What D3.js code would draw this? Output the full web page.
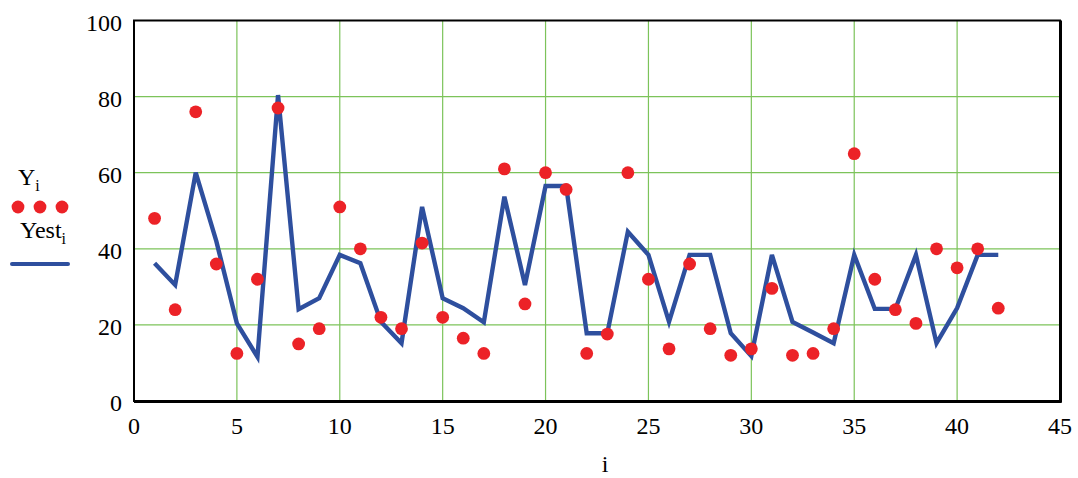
<!DOCTYPE html>
<html>
<head>
<script src="https://cdn.jsdelivr.net/npm/d3@7"></script>
</head>
<body style="margin:0">
<script>
const width = 1078
const height = 478
const serif = '"Liberation Serif"'

// data
const idx = d3.range(1, 43)
const yObs = [48, 24, 76, 36, 12.5, 32, 77, 15, 19, 51, 40, 22, 19, 41.5, 22,
  16.5, 12.5, 61, 25.5, 60, 55.6, 12.5, 17.6, 60, 32, 13.7, 36, 19, 12, 13.7,
  29.6, 12, 12.5, 19, 65, 32, 24, 20.4, 40, 35, 40, 24.4]
const yEst = [36.2, 30.5, 60, 42, 20.4, 11.6, 80.4, 24.1, 27, 38.4, 36.2, 20.8, 15.2, 51, 27,
  24.4, 20.7, 53.7, 30.5, 56.5, 56.5, 17.8, 17.8, 44.5, 38.4, 20.8, 38.4, 38.4, 17.8, 11.8,
  38.4, 20.8, 18, 15.2, 38.4, 24.2, 24.2, 38.4, 15.2, 24.4, 38.4, 38.4]
const xTicks = d3.range(0, 46, 5)
const yTicks = d3.range(0, 101, 20)

const margin = { top: 20.5, right: 18, bottom: 77, left: 134 }
const graphWidth = width - margin.left - margin.right
const graphHeight = height - margin.top - margin.bottom

const svg = d3.select("body")
    .append("svg")
    .attr("width", width)
    .attr("height", height)

const graph = svg.append("g")
    .attr("transform", `translate(${margin.left}, ${margin.top})`)

const scaleX = d3.scaleLinear().domain([0, 45]).range([0, graphWidth])
const scaleY = d3.scaleLinear().domain([0, 100]).range([graphHeight, 0])

// grid
graph.selectAll(".gx")
    .data(xTicks.filter(d => d > 0 && d < 45))
    .enter().append("line")
    .attr("x1", d => scaleX(d)).attr("x2", d => scaleX(d))
    .attr("y1", 0).attr("y2", graphHeight)
    .attr("stroke", "#7cc35a").attr("stroke-width", 1.2)

graph.selectAll(".gy")
    .data(yTicks.filter(d => d > 0))
    .enter().append("line")
    .attr("x1", 0).attr("x2", graphWidth)
    .attr("y1", d => scaleY(d)).attr("y2", d => scaleY(d))
    .attr("stroke", "#7cc35a").attr("stroke-width", 1.2)

// fitted line
const line = d3.line()
    .x((d, i) => scaleX(idx[i]))
    .y(d => scaleY(d))

graph.append("path")
    .datum(yEst)
    .attr("d", line)
    .attr("fill", "none")
    .attr("stroke", "#2e4f9e")
    .attr("stroke-width", 4.4)
    .attr("stroke-linejoin", "miter")

// observed points
graph.selectAll("circle")
    .data(yObs)
    .enter().append("circle")
    .attr("cx", (d, i) => scaleX(idx[i]))
    .attr("cy", d => scaleY(d))
    .attr("r", 6.4)
    .attr("fill", "#ec2227")

// frame
graph.append("rect")
    .attr("x", 0).attr("y", 0)
    .attr("width", graphWidth).attr("height", graphHeight)
    .attr("fill", "none").attr("stroke", "#000").attr("stroke-width", 2)
graph.append("line")
    .attr("x1", 0).attr("x2", graphWidth + 1.5)
    .attr("y1", graphHeight + 1).attr("y2", graphHeight + 1)
    .attr("stroke", "#000").attr("stroke-width", 2)
graph.append("line")
    .attr("x1", graphWidth + 1).attr("x2", graphWidth + 1)
    .attr("y1", 0).attr("y2", graphHeight + 1.5)
    .attr("stroke", "#000").attr("stroke-width", 2)

// tick labels
graph.selectAll(".xl")
    .data(xTicks)
    .enter().append("text")
    .attr("font-family", serif)
    .style("font-family", serif)
    .attr("x", d => scaleX(d))
    .attr("y", graphHeight + 33)
    .attr("text-anchor", "middle")
    .attr("font-size", 24)
    .text(d => d)

graph.selectAll(".yl")
    .data(yTicks)
    .enter().append("text")
    .attr("font-family", serif)
    .style("font-family", serif)
    .attr("x", -12)
    .attr("y", d => scaleY(d) + 10)
    .attr("text-anchor", "end")
    .attr("font-size", 24)
    .text(d => d)

svg.append("text")
    .attr("font-family", serif)
    .style("font-family", serif)
    .attr("x", 605).attr("y", 472)
    .attr("text-anchor", "middle")
    .attr("font-size", 24)
    .text("i")

// legend
const leg = svg.append("g")
const t1 = leg.append("text")
    .attr("font-family", serif).style("font-family", serif)
    .attr("x", 18).attr("y", 185).attr("font-size", 24)
t1.append("tspan").text("Y")
t1.append("tspan").attr("font-size", 16).attr("dy", 6).text("i")
leg.selectAll(".ld")
    .data([18, 40, 62])
    .enter().append("circle")
    .attr("cx", d => d).attr("cy", 207).attr("r", 6.4)
    .attr("fill", "#ec2227")
const t2 = leg.append("text")
    .attr("font-family", serif).style("font-family", serif)
    .attr("x", 20).attr("y", 238).attr("font-size", 24)
t2.append("tspan").text("Yest")
t2.append("tspan").attr("font-size", 16).attr("dy", 6).text("i")
leg.append("line")
    .attr("x1", 12).attr("x2", 68)
    .attr("y1", 264).attr("y2", 264)
    .attr("stroke", "#2e4f9e").attr("stroke-width", 4)
    .attr("stroke-linecap", "round")
</script>
</body>
</html>
